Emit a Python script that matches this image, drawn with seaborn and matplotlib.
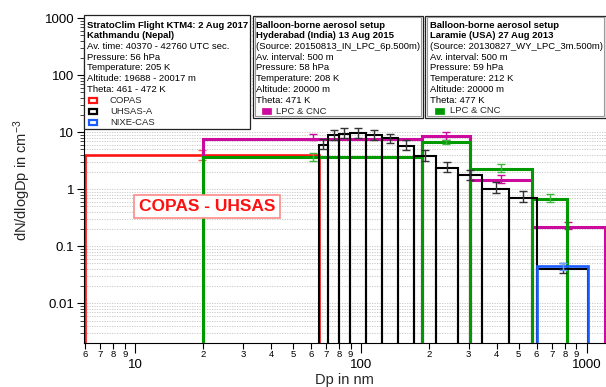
import numpy as np
import matplotlib
matplotlib.use("Agg")
import matplotlib.pyplot as plt
from matplotlib.patches import Rectangle
from matplotlib.ticker import LogLocator, FuncFormatter, NullFormatter
import seaborn as sns

# ---- size distributions: bin edges in nm, dN/dlogDp in cm^-3, error range ----
copas_edges = [6, 65]
copas_vals = [4.0]
copas_lo = [3.3]
copas_hi = [4.9]

uhsas_edges = [65, 71.5, 80, 89, 105, 124, 146, 172, 216, 269, 345, 455, 604, 1018]
uhsas_vals = [6.1, 9.0, 9.5, 9.6, 8.8, 7.8, 5.8, 3.9, 2.4, 1.8, 1.0, 0.70, 0.040]
uhsas_lo = [5.0, 7.4, 8.0, 7.9, 7.2, 6.4, 4.8, 3.2, 2.0, 1.45, 0.85, 0.60, 0.034]
uhsas_hi = [7.6, 11.2, 12.0, 11.8, 10.8, 9.5, 7.2, 4.9, 3.0, 2.2, 1.35, 0.95, 0.050]

nixe_edges = [604, 1018]
nixe_vals = [0.045]
nixe_lo = [0.039]
nixe_hi = [0.051]

hyd_edges = [20, 187, 305, 573, 1200]
hyd_vals = [7.6, 8.6, 1.46, 0.215]
hyd_lo = [7.2, 7.4, 1.30, 0.20]
hyd_hi = [9.2, 10.2, 1.75, 0.27]

lar_edges = [20, 187, 305, 573, 818]
lar_vals = [3.7, 6.7, 2.24, 0.67]
lar_lo = [3.2, 6.3, 2.0, 0.61]
lar_hi = [4.4, 7.4, 2.8, 0.83]

# ---- info boxes ----
ktm_lines = ["StratoClim Flight KTM4: 2 Aug 2017", "Kathmandu (Nepal)",
             "Av. time: 40370 - 42760 UTC sec.", "Pressure: 56 hPa",
             "Temperature: 205 K", "Altitude: 19688 - 20017 m", "Theta: 461 - 472 K"]
ktm_legend = ["COPAS", "UHSAS-A", "NIXE-CAS"]
hyd_lines = ["Balloon-borne aerosol setup", "Hyderabad (India) 13 Aug 2015",
             "(Source: 20150813_IN_LPC_6p.500m)", "Av. interval: 500 m",
             "Pressure: 58 hPa", "Temperature: 208 K", "Altitude: 20000 m", "Theta: 471 K"]
lar_lines = ["Balloon-borne aerosol setup", "Laramie (USA) 27 Aug 2013",
             "(Source: 20130827_WY_LPC_3m.500m)", "Av. interval: 500 m",
             "Pressure: 59 hPa", "Temperature: 212 K", "Altitude: 20000 m", "Theta: 477 K"]
lpc_label = "LPC & CNC"

C_RED = "#ff1414"
C_BLACK = "#000000"
C_BLUE = "#1a5cff"
C_MAG = "#cc0a9e"
C_GREEN = "#009a00"

sns.set_theme(style="ticks")
plt.rcParams["font.family"] = ["Liberation Sans", "DejaVu Sans"]
plt.rcParams["mathtext.default"] = "regular"

W, H = 606, 387
fig = plt.figure(figsize=(W / 100, H / 100), dpi=100)
fig.patch.set_facecolor("white")
ax = fig.add_axes([84 / W, 1 - 342.7 / H, (605.5 - 84) / W, (342.7 - 18.3) / H])
ax.set_facecolor("white")
ax.set_xscale("log")
ax.set_yscale("log")


def draw_bins(edges, vals, lo, hi, color, lw, ecolor, z):
    e = np.asarray(edges, float)
    v = np.asarray(vals, float)
    centers = np.sqrt(e[:-1] * e[1:])
    # open bars standing on the axis floor, one per size bin
    ax.bar(e[:-1], v - 1e-5, width=np.diff(e), bottom=1e-5, align="edge",
           fill=False, edgecolor=color, linewidth=lw, zorder=z)
    ax.errorbar(centers, v, yerr=[v - np.asarray(lo), np.asarray(hi) - v],
                fmt="none", ecolor=ecolor, elinewidth=1.0, capsize=3,
                capthick=1.0, zorder=z + 0.5)


draw_bins(copas_edges, copas_vals, copas_lo, copas_hi, C_RED, 1.9, "#ff5a5a", 2)
draw_bins(hyd_edges, hyd_vals, hyd_lo, hyd_hi, C_MAG, 2.2, C_MAG, 3)
draw_bins(lar_edges, lar_vals, lar_lo, lar_hi, C_GREEN, 2.2, "#3cb83c", 4)
draw_bins(uhsas_edges, uhsas_vals, uhsas_lo, uhsas_hi, C_BLACK, 1.5, "#333333", 5)
draw_bins(nixe_edges, nixe_vals, nixe_lo, nixe_hi, C_BLUE, 1.9, "#6f9cff", 6)

ax.set_xlim(5.93, 1212)
ax.set_ylim(0.00204, 1000)

# axes styling
for side in ("top", "right"):
    ax.spines[side].set_visible(False)
for side in ("left", "bottom"):
    ax.spines[side].set_color("black")
    ax.spines[side].set_linewidth(0.8)

ax.xaxis.set_major_locator(LogLocator(base=10, numticks=10))
ax.xaxis.set_minor_locator(LogLocator(base=10, subs=np.arange(2, 10), numticks=20))
ax.xaxis.set_major_formatter(FuncFormatter(lambda v, p: f"{v:g}"))
ax.xaxis.set_minor_formatter(FuncFormatter(lambda v, p: f"{v / 10 ** np.floor(np.log10(v) + 1e-9):.0f}"))
ax.yaxis.set_major_locator(LogLocator(base=10, numticks=10))
ax.yaxis.set_minor_locator(LogLocator(base=10, subs=np.arange(2, 10), numticks=20))
ax.yaxis.set_major_formatter(FuncFormatter(lambda v, p: f"{v:g}"))
ax.yaxis.set_minor_formatter(NullFormatter())

ax.tick_params(axis="x", which="major", direction="out", length=7, width=0.8,
               labelsize=9.5, pad=5, colors="black")
ax.tick_params(axis="x", which="minor", direction="out", length=4, width=0.8,
               labelsize=6.8, pad=1.5, colors="black")
ax.tick_params(axis="y", which="major", direction="out", length=5, width=0.8,
               labelsize=9.5, pad=2, colors="black")
ax.tick_params(axis="y", which="minor", direction="out", length=3, width=0.6)

ax.grid(False)
ax.yaxis.grid(True, which="both", color="#c4c4c4", linestyle=(0, (1.5, 1.5)), linewidth=0.6)
ax.set_axisbelow(True)

ax.set_xlabel("Dp in nm", fontsize=10.5)
ax.set_ylabel("dN/dlogDp in cm$^{-3}$", fontsize=10.5)
ax.xaxis.set_label_coords(0.5, -0.093)
ax.yaxis.set_label_coords(-0.097, 0.5)

# ---- overlay annotations in pixel coordinates of the figure ----
def fx(px):
    return px / W


def fy(py):
    return 1 - py / H


def box(x0, y0, x1, y1, double=False):
    fig.add_artist(Rectangle((fx(x0), fy(y1)), (x1 - x0) / W, (y1 - y0) / H,
                             transform=fig.transFigure, facecolor="white",
                             edgecolor="#222222", linewidth=0.9, zorder=5))
    if double:
        fig.add_artist(Rectangle((fx(x0 + 2), fy(y1 - 2)), (x1 - x0 - 4) / W, (y1 - y0 - 4) / H,
                                 transform=fig.transFigure, fill=False,
                                 edgecolor="#9a9a9a", linewidth=0.8, zorder=5.1))


def lines_text(x, ys, lines, nbold):
    for i, (y, s) in enumerate(zip(ys, lines)):
        fig.text(fx(x), fy(y), s, fontsize=6.8, ha="left", va="center",
                 fontweight="bold" if i < nbold else "normal", color="black", zorder=6)


def marker(x0, yc, color, hollow):
    if hollow:
        fig.add_artist(Rectangle((fx(x0), fy(yc + 2.3)), 9 / W, 4.6 / H,
                                 transform=fig.transFigure, facecolor="white",
                                 edgecolor=color, linewidth=1.6, zorder=6))
    else:
        fig.add_artist(Rectangle((fx(x0), fy(yc + 3)), 9 / W, 6 / H,
                                 transform=fig.transFigure, facecolor=color,
                                 edgecolor=color, linewidth=0.5, zorder=6))


step = 10.75
box(83.5, 15.5, 249.7, 129.0)
ys1 = [25 + i * step for i in range(len(ktm_lines))]
lines_text(87, ys1, ktm_lines, 2)
for i, (lab, col) in enumerate(zip(ktm_legend, [C_RED, C_BLACK, C_BLUE])):
    yc = 100.7 + i * 11
    marker(88.5, yc, col, True)
    fig.text(fx(110), fy(yc), lab, fontsize=6.8, ha="left", va="center", zorder=6)

box(252.7, 15.5, 422.5, 118.3, double=True)
ys2 = [25 + i * step for i in range(len(hyd_lines))]
lines_text(256.5, ys2, hyd_lines, 2)
marker(262, 111, C_MAG, False)
fig.text(fx(276), fy(111), lpc_label, fontsize=6.8, ha="left", va="center", zorder=6)

box(425, 15.5, 605.5, 118.3, double=True)
ys3 = [25 + i * step for i in range(len(lar_lines))]
lines_text(430.5, ys3, lar_lines, 2)
marker(435, 110.7, C_GREEN, False)
fig.text(fx(450), fy(110.7), lpc_label, fontsize=6.8, ha="left", va="center", zorder=6)

fig.text(fx(207), fy(206.5), "COPAS - UHSAS", fontsize=12.5, fontweight="bold",
         color="#ff1010", ha="center", va="center", zorder=7,
         bbox=dict(boxstyle="square,pad=0.25", facecolor="white",
                   edgecolor="#ff8a8a", linewidth=1.2))

fig.savefig("out.png", dpi=100, facecolor="white")
